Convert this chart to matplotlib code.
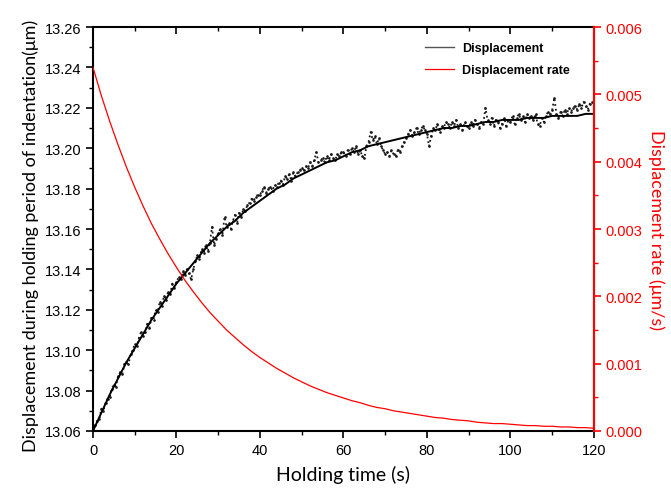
import matplotlib
matplotlib.use('Agg')
import matplotlib.pyplot as plt
import numpy as np
from matplotlib.ticker import MultipleLocator, FormatStrFormatter

# holding time grid of the measured points (s)
t_meas = np.arange(0, 120.5, 0.5)
disp_nm = [
    0, 3, 5, 6, 11, 10, 14, 16, 17, 21,
    23, 22, 27, 29, 28, 33, 34, 33, 38, 40,
    43, 42, 46, 49, 47, 49, 53, 51, 56, 55,
    60, 59, 64, 62, 67, 65, 69, 68, 73, 71,
    74, 76, 75, 79, 77, 80, 78, 75, 80, 84,
    87, 85, 90, 88, 92, 89, 93, 101, 92, 95,
    98, 100, 97, 106, 101, 103, 100, 104, 107, 103,
    108, 106, 110, 109, 112, 113, 115, 114, 116, 117,
    117, 119, 121, 118, 120, 121, 119, 122, 121, 123,
    124, 122, 126, 125, 127, 124, 128, 126, 128, 129,
    130, 129, 131, 130, 133, 131, 134, 138, 133, 134,
    135, 133, 136, 134, 137, 135, 134, 137, 136, 138,
    138, 136, 139, 137, 140, 138, 141, 137, 139, 136,
    135, 141, 143, 148, 144, 146, 142, 145, 141, 139,
    137, 138, 136, 139, 137, 136, 139, 138, 141, 143,
    145, 147, 149, 146, 148, 150, 147, 149, 151, 149,
    147, 141, 146, 150, 149, 152, 148, 151, 150, 153,
    152, 150, 153, 151, 154, 150, 152, 149, 153, 151,
    150, 153, 151, 154, 152, 150, 153, 152, 160, 154,
    152, 155, 151, 154, 153, 150, 152, 155, 151, 154,
    153, 156, 152, 155, 157, 154, 156, 153, 157, 155,
    156, 154, 157, 152, 151, 155, 153, 156, 158, 157,
    159, 165, 157, 155, 158, 156, 159, 157, 160, 158,
    160, 161, 159, 162, 160, 163, 161, 159, 162, 163,
    162,
]

# fitted curve and displacement rate, every 2 s
t_fit = list(range(0, 121, 2))
disp_fit = [13.060, 13.069, 13.078, 13.086, 13.094, 13.101, 13.108, 13.115, 13.121, 13.127,
            13.133, 13.138, 13.143, 13.148, 13.153, 13.157, 13.161, 13.164, 13.168, 13.171,
            13.174, 13.177, 13.180, 13.182, 13.185, 13.187, 13.189, 13.191, 13.193, 13.194,
            13.196, 13.198, 13.199, 13.201, 13.202, 13.203, 13.204, 13.205, 13.206, 13.207,
            13.208, 13.209, 13.210, 13.210, 13.211, 13.211, 13.212, 13.213, 13.213, 13.214,
            13.214, 13.214, 13.215, 13.215, 13.215, 13.216, 13.216, 13.216, 13.216, 13.217,
            13.217]
rate = [0.00540, 0.00498, 0.00460, 0.00425, 0.00392, 0.00362, 0.00334, 0.00308, 0.00285, 0.00263,
        0.00243, 0.00224, 0.00207, 0.00191, 0.00176, 0.00163, 0.00150, 0.00139, 0.00128, 0.00118,
        0.00109, 0.00101, 0.00093, 0.00086, 0.00079, 0.00073, 0.00067, 0.00062, 0.00057, 0.00053,
        0.00049, 0.00045, 0.00042, 0.00038, 0.00035, 0.00033, 0.00030, 0.00028, 0.00026, 0.00024,
        0.00022, 0.00020, 0.00019, 0.00017, 0.00016, 0.00015, 0.00013, 0.00012, 0.00011, 0.00011,
        0.00010, 0.00009, 0.00008, 0.00008, 0.00007, 0.00007, 0.00006, 0.00006, 0.00005, 0.00005,
        0.00004]

disp_meas = 13.06 + np.array(disp_nm) / 1000.0

plt.rcParams['font.family'] = ['Liberation Sans', 'DejaVu Sans']

fig = plt.figure(figsize=(6.71, 4.89), dpi=100)
ax = fig.add_axes([0.1386, 0.1166, 0.7466, 0.8261])

ax.plot(t_meas, disp_meas, color='#1a1a1a', linestyle=':', linewidth=1.3,
        marker='.', markersize=1.8)
l1, = ax.plot(t_fit, disp_fit, color='black', linewidth=1.4, label='Displacement')

ax.set_xlim(0, 120)
ax.set_ylim(13.06, 13.26)
ax.xaxis.set_major_locator(MultipleLocator(20))
ax.xaxis.set_minor_locator(MultipleLocator(10))
ax.yaxis.set_major_locator(MultipleLocator(0.02))
ax.yaxis.set_minor_locator(MultipleLocator(0.01))
ax.yaxis.set_major_formatter(FormatStrFormatter('%.2f'))
ax.tick_params(axis='both', which='major', direction='out', length=5, width=1.2, labelsize=10.5)
ax.tick_params(axis='both', which='minor', direction='out', length=3, width=1.0)
ax.tick_params(axis='x', which='both', top=True)
for s in ax.spines.values():
    s.set_linewidth(1.5)

# top ticks point inward
for tl in ax.xaxis.get_majorticklines()[1::2] + ax.xaxis.get_minorticklines()[1::2]:
    tl.set_marker(3)

ax.set_xlabel('Holding time (s)', fontsize=14, family=['Lato', 'DejaVu Sans'], labelpad=6)
ax.set_ylabel('Displacement during holding period of indentation(\u03bcm)', fontsize=13,
              family=['Lato', 'DejaVu Sans'], labelpad=4, y=0.485)

ax2 = ax.twinx()
l2, = ax2.plot(t_fit, rate, color='red', linewidth=0.9, label='Displacement rate')
ax2.set_ylim(0, 0.006)
ax2.yaxis.set_major_locator(MultipleLocator(0.001))
ax2.yaxis.set_minor_locator(MultipleLocator(0.0005))
ax2.yaxis.set_major_formatter(FormatStrFormatter('%.3f'))
ax2.tick_params(axis='y', which='major', direction='out', length=5, width=1.2,
                colors='red', labelsize=10.5)
ax2.tick_params(axis='y', which='minor', direction='out', length=3, width=1.0, colors='red')
ax2.spines['right'].set_color('red')
ax2.spines['right'].set_linewidth(1.5)
for k in ['top', 'left', 'bottom']:
    ax2.spines[k].set_visible(False)
ax2.set_ylabel('Displacement rate (\u03bcm/s)', color='red', fontsize=13, rotation=270,
               labelpad=16, family=['Lato', 'DejaVu Sans'])

leg = ax.legend([l1, l2], ['Displacement', 'Displacement rate'], loc='upper left',
                bbox_to_anchor=(0.64, 0.99), frameon=False, handlelength=2.3,
                handletextpad=0.7, labelspacing=0.8,
                prop={'weight': 'bold', 'size': 9})
leg.get_lines()[0].set_color('#555555')
leg.get_lines()[0].set_linewidth(1.0)

fig.savefig('out.png', dpi=100)
